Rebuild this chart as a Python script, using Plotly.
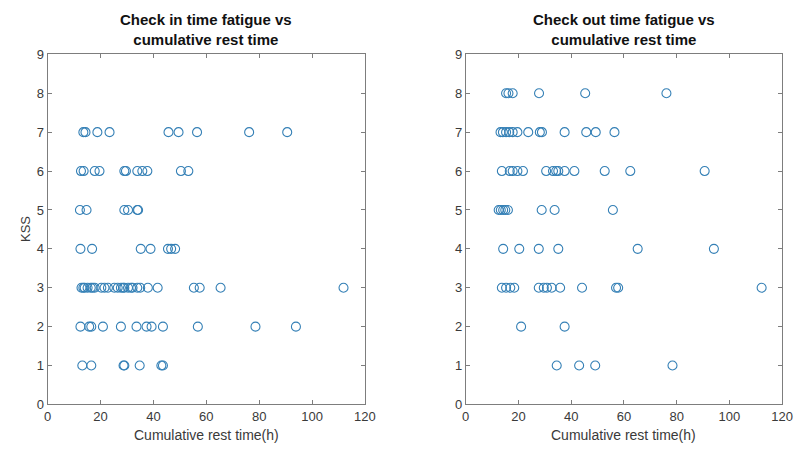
import plotly.graph_objects as go

# KSS level and the cumulative rest time (h) of each observation
checkin_rest = {
    7: [13.5, 14.3, 18.8, 23.4, 45.7, 49.5, 56.5, 76.2, 90.6],
    6: [12.6, 13.6, 17.8, 19.6, 29.0, 29.6, 33.9, 35.8, 37.7, 50.4, 53.2],
    5: [12.2, 14.7, 29.0, 30.4, 33.9, 34.2],
    4: [12.4, 16.8, 35.2, 38.9, 45.5, 46.7, 48.2],
    3: [12.8, 13.5, 14.0, 15.1, 16.3, 17.0, 17.8, 20.3, 21.5, 22.8, 25.2, 26.5,
        27.7, 28.5, 29.0, 30.4, 31.5, 32.1, 33.9, 35.0, 37.9, 41.6, 55.3, 57.5,
        65.4, 111.9],
    2: [12.4, 15.7, 16.5, 20.9, 27.7, 33.6, 37.4, 39.3, 43.6, 56.8, 78.6, 93.9],
    1: [13.1, 16.5, 28.7, 29.0, 34.8, 43.0, 43.6],
}

checkout_rest = {
    8: [15.3, 16.2, 17.8, 27.8, 45.3, 76.1],
    7: [13.2, 14.1, 15.3, 16.5, 17.8, 19.6, 23.7, 28.1, 28.9, 37.5, 45.7, 49.3, 56.4],
    6: [13.7, 16.7, 17.8, 19.6, 21.7, 30.5, 33.1, 34.3, 35.1, 37.5, 41.2, 52.7,
        62.4, 90.6],
    5: [12.5, 13.3, 14.2, 15.0, 16.0, 28.8, 33.7, 55.8],
    4: [14.2, 20.3, 27.7, 35.1, 65.2, 94.1],
    3: [13.7, 15.3, 16.9, 18.4, 27.7, 29.6, 30.8, 32.6, 35.8, 44.1, 57.0, 57.8,
        112.2],
    2: [21.0, 37.5],
    1: [34.5, 43.0, 49.1, 78.4],
}

x_ticks = [0, 20, 40, 60, 80, 100, 120]
y_ticks = list(range(0, 10))

titles = ["Check in time fatigue vs<br>cumulative rest time",
          "Check out time fatigue vs<br>cumulative rest time"]
x_label = "Cumulative rest time(h)"
y_label = "KSS"

W, H = 804, 454
FONT = "Liberation Sans, Arial, sans-serif"
AXIS_COLOR = "#7d7d7d"
TEXT_COLOR = "#3a3a3a"
MARKER_COLOR = "#3580b6"


def flatten(groups):
    xs, ys = [], []
    for kss, vals in groups.items():
        for v in vals:
            xs.append(v)
            ys.append(kss)
    return xs, ys


fig = go.Figure()

for i, data in enumerate([checkin_rest, checkout_rest]):
    xs, ys = flatten(data)
    fig.add_trace(go.Scatter(
        x=xs, y=ys, mode="markers",
        marker=dict(symbol="circle-open", size=9, color=MARKER_COLOR,
                    line=dict(width=1.1, color=MARKER_COLOR)),
        xaxis="x" if i == 0 else "x2",
        yaxis="y" if i == 0 else "y2",
        showlegend=False, hoverinfo="x+y",
    ))

y_dom = [1 - 411 / H, 1 - 49 / H]
x_doms = [[44.5 / W, 367.8 / W], [470.5 / W, 793 / W]]

common_x = dict(range=[0, 120], tickvals=x_ticks, ticks="inside", ticklen=4,
                tickcolor=AXIS_COLOR, showline=True, linecolor=AXIS_COLOR,
                linewidth=1, mirror="ticks", showgrid=False, zeroline=False,
                tickfont=dict(family=FONT, size=13, color=TEXT_COLOR),
                fixedrange=True)
common_y = dict(range=[0, 9], tickvals=y_ticks, ticks="inside", ticklen=4,
                tickcolor=AXIS_COLOR, showline=True, linecolor=AXIS_COLOR,
                linewidth=1, mirror="ticks", showgrid=False, zeroline=False,
                tickfont=dict(family=FONT, size=13, color=TEXT_COLOR),
                fixedrange=True)

fig.update_layout(
    width=W, height=H,
    margin=dict(l=0, r=0, t=0, b=0),
    paper_bgcolor="white", plot_bgcolor="white",
    xaxis=dict(domain=x_doms[0], anchor="y", **common_x),
    yaxis=dict(domain=y_dom, anchor="x", **common_y),
    xaxis2=dict(domain=x_doms[1], anchor="y2", **common_x),
    yaxis2=dict(domain=y_dom, anchor="x2", **common_y),
)

annotations = []
for dom, title in zip(x_doms, titles):
    cx = (dom[0] + dom[1]) / 2
    annotations.append(dict(
        text="<b>" + title + "</b>", x=cx, y=1 - 2 / H, xref="paper", yref="paper",
        xanchor="center", yanchor="top", showarrow=False,
        font=dict(family=FONT, size=15, color="#111111")))
    annotations.append(dict(
        text=x_label, x=cx, y=1 - 432 / H, xref="paper", yref="paper",
        xanchor="center", yanchor="top", showarrow=False,
        font=dict(family=FONT, size=14, color=TEXT_COLOR)))

annotations.append(dict(
    text=y_label, x=22 / W, y=(y_dom[0] + y_dom[1]) / 2, xref="paper",
    yref="paper", xanchor="center", yanchor="middle", showarrow=False,
    textangle=-90, font=dict(family=FONT, size=13, color=TEXT_COLOR)))

fig.update_layout(annotations=annotations)

fig.write_html("out.html")
